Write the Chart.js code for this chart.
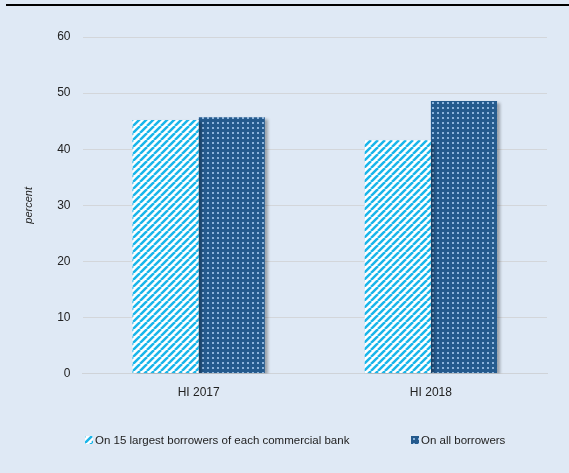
<!DOCTYPE html>
<html>
<head>
<meta charset="utf-8">
<script src="https://cdn.jsdelivr.net/npm/chart.js@4"></script>
<style>
  html, body { margin: 0; padding: 0; background: #dfe9f5; }
  #wrap { position: relative; width: 569px; height: 473px; font-family: 'Liberation Sans', Arial, sans-serif; }
  #topline { position: absolute; left: 6px; right: 0; top: 4px; height: 2px; background: #000; }
  .leg { position: absolute; top: 432px; font-size: 11.5px; color: #222; line-height: 16px; white-space: nowrap; }
  .leg canvas { position: absolute; left: -10px; top: 4px; }
</style>
</head>
<body>
<div id="wrap">
  <div id="topline"></div>
  <canvas id="chart" width="569" height="473"></canvas>
  <div class="leg" id="leg0" style="left: 95px;"><canvas width="8" height="8"></canvas><span></span></div>
  <div class="leg" id="leg1" style="left: 421px;"><canvas width="8" height="8"></canvas><span></span></div>
</div>
<script>
const categories = ['HI 2017', 'HI 2018'];
const seriesLabels = ['On 15 largest borrowers of each commercial bank', 'On all borrowers'];
const largestBorrowers = [45.2, 41.6];
const allBorrowers = [45.7, 48.6];
const yTicks = [0, 10, 20, 30, 40, 50, 60];

function stripePattern(g0) {
    const c = document.createElement('canvas');
    c.width = 7; c.height = 7;
    const g = c.getContext('2d');
    g.fillStyle = '#ffffff';
    g.fillRect(0, 0, 7, 7);
    g.strokeStyle = '#19b5ea';
    g.lineWidth = 2.5;
    for (let o = -7; o <= 14; o += 7) {
        g.beginPath();
        g.moveTo(o, 7);
        g.lineTo(o + 7, 0);
        g.stroke();
    }
    return (g0 || g).createPattern(c, 'repeat');
}

function dotPattern(g0) {
    const c = document.createElement('canvas');
    c.width = 5; c.height = 5;
    const g = c.getContext('2d');
    g.fillStyle = '#245a8d';
    g.fillRect(0, 0, 5, 5);
    g.fillStyle = '#8cb4dc';
    g.fillRect(2, 2, 2, 2);
    return (g0 || g).createPattern(c, 'repeat');
}

const shadowPlugin = {
    id: 'barShadow',
    beforeDatasetsDraw(chart) {
        const ctx = chart.ctx;
        ctx.save();
        ctx.shadowColor = 'rgba(0,0,0,0.3)';
        ctx.shadowBlur = 3;
        ctx.shadowOffsetX = 3;
        ctx.shadowOffsetY = 2;
    },
    afterDatasetsDraw(chart) {
        chart.ctx.restore();
    }
};

const ctx = document.getElementById('chart');

const data = {
    labels: categories,
    datasets: [
        {
            label: seriesLabels[0],
            data: largestBorrowers,
            backgroundColor: stripePattern(),
            borderWidth: 0
        },
        {
            label: seriesLabels[1],
            data: allBorrowers,
            backgroundColor: dotPattern(),
            borderWidth: 0
        }
    ]
};

const options = {
    responsive: false,
    animation: false,
    layout: {
        padding: { top: 37, right: 22, left: 22, bottom: 69 }
    },
    datasets: {
        bar: {
            categoryPercentage: 0.57,
            barPercentage: 1
        }
    },
    plugins: {
        tooltip: { enabled: false },
        legend: { display: false }
    },
    scales: {
        x: {
            grid: { display: false },
            border: { color: '#cfd3d8', width: 1 },
            ticks: {
                color: '#222',
                padding: 4,
                font: { family: 'Liberation Sans, Arial', size: 12 }
            }
        },
        y: {
            min: 0,
            max: 60,
            afterBuildTicks(axis) {
                axis.ticks = yTicks.map(v => ({ value: v }));
            },
            grid: { color: '#d3d6da', lineWidth: 1, drawTicks: false },
            border: { display: false },
            ticks: {
                color: '#222',
                padding: 12,
                font: { family: 'Liberation Sans, Arial', size: 12 }
            },
            title: {
                display: true,
                text: 'percent',
                color: '#222',
                padding: { top: 0, bottom: 10 },
                font: { family: 'Liberation Sans, Arial', size: 11, style: 'italic' }
            }
        }
    }
};

const chart = new Chart(ctx, {
    type: 'bar',
    data: data,
    options: options,
    plugins: [shadowPlugin]
});

// legend built from the dataset labels
[stripePattern, dotPattern].forEach((makePattern, i) => {
    const item = document.getElementById('leg' + i);
    item.querySelector('span').textContent = seriesLabels[i];
    const box = item.querySelector('canvas').getContext('2d');
    box.fillStyle = makePattern(box);
    box.fillRect(0, 0, 8, 8);
});
</script>
</body>
</html>
